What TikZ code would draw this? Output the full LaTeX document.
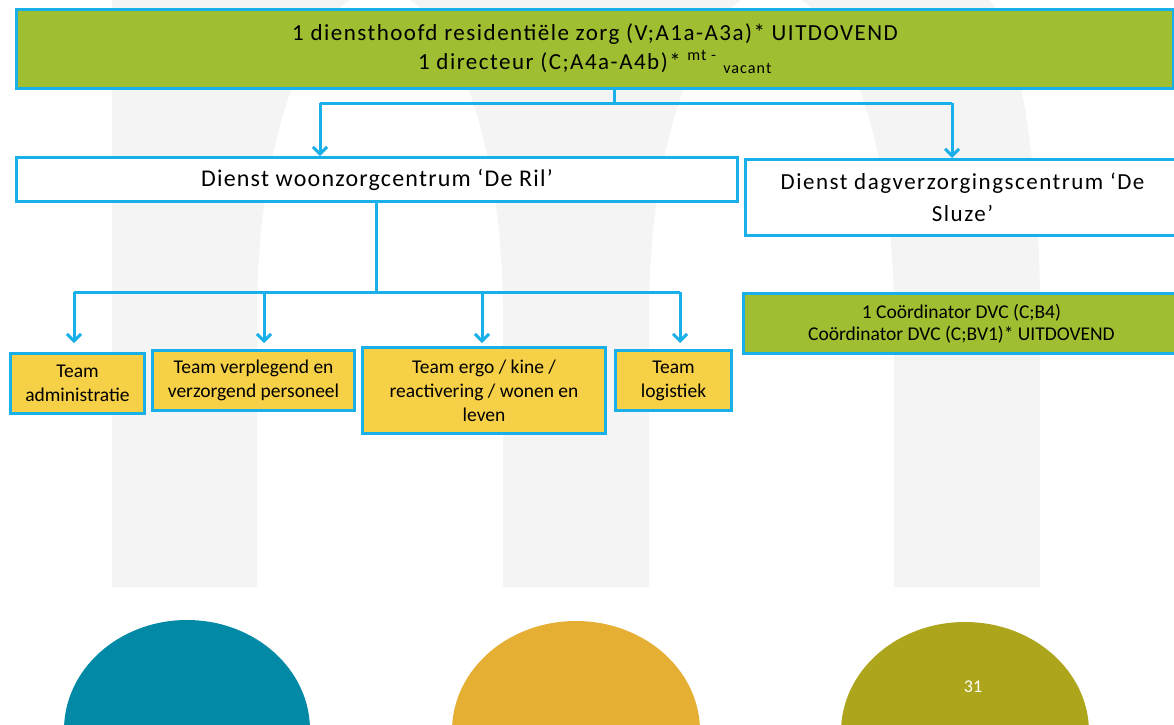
\documentclass[tikz,border=0pt]{standalone}
\usepackage{fontspec}
\setmainfont{Carlito}
\usetikzlibrary{arrows.meta}
\definecolor{cyanb}{HTML}{19AFE8}
\definecolor{boxgreen}{HTML}{A0BE32}
\definecolor{boxyellow}{HTML}{F6D047}
\definecolor{pillar}{HTML}{F4F4F4}
\definecolor{eblue}{HTML}{0289A6}
\definecolor{eorange}{HTML}{E5AF34}
\definecolor{eolive}{HTML}{ADA51C}
\begin{document}
\begin{tikzpicture}[x=1pt,y=-1pt,
  box/.style={draw=cyanb, line width=3pt, inner sep=2pt, align=center, anchor=north west},
  greenbox/.style={box, fill=boxgreen},
  whitebox/.style={box, fill=white},
  teambox/.style={box, fill=boxyellow, font=\fontsize{19.5}{24}\selectfont},
  ln/.style={draw=cyanb, line width=3pt},
  arr/.style={ln, -{Straight Barb[length=7pt,width=14pt,line width=3pt]}},
]
\useasboundingbox (0,0) rectangle (1174,724);
\clip (0,0) rectangle (1174,724);
\fill[white] (0,0) rectangle (1174,724);
% background logo shape
\fill[pillar, even odd rule]
  (112,587) -- (112,-30) -- (973,-30) -- (973,-10)
    .. controls (1010,-10) and (1040,135) .. (1040,314) -- (1040,587) -- cycle
  (257,587) -- (257,314) .. controls (257,135) and (312,-10) .. (380,-10)
    .. controls (448,-10) and (503,135) .. (503,314) -- (503,587) -- cycle
  (649,587) -- (649,314) .. controls (649,135) and (704,-10) .. (771,-10)
    .. controls (839,-10) and (894,135) .. (894,314) -- (894,587) -- cycle;
% bottom ellipses
\fill[eblue] (187,730) ellipse [x radius=123, y radius=110];
\fill[eorange] (576,731) ellipse [x radius=124, y radius=110];
\fill[eolive] (965,732) ellipse [x radius=124, y radius=110];
\node[text=white, font=\fontsize{18}{20}\selectfont] (pg) at (973,687) {31};
% boxes
\node[greenbox, minimum width=1157pt, minimum height=79pt,
      font=\fontsize{23}{30}\selectfont\addfontfeature{LetterSpace=6.5}] (top) at (15,8)
  {1 diensthoofd residentiële zorg (V;A1a-A3a)* UITDOVEND\\[-1pt]
   1 directeur (C;A4a-A4b)* \textsuperscript{mt -} \textsubscript{vacant}};
\node[whitebox, minimum width=721pt, minimum height=44pt,
      font=\fontsize{24}{28}\selectfont\addfontfeature{LetterSpace=5}] (ril) at (15,156)
  {Dienst woonzorgcentrum ‘De Ril’};
\node[whitebox, minimum width=434pt, minimum height=76pt,
      font=\fontsize{23}{32}\selectfont\addfontfeature{LetterSpace=6.5}] (sluze) at (744,158)
  {Dienst dagverzorgingscentrum ‘De\\ Sluze’};
\node[greenbox, minimum width=436pt, minimum height=60pt, font=\fontsize{19.5}{22}\selectfont] (dvc) at (742,292)
  {1 Coördinator DVC (C;B4)\\ Coördinator DVC (C;BV1)* UITDOVEND};
\node[teambox, minimum width=134pt, minimum height=60pt] (adm) at (9,352) {Team\\ administratie};
\node[teambox, minimum width=202pt, minimum height=60pt] (verpl) at (151,349) {Team verplegend en\\ verzorgend personeel};
\node[teambox, minimum width=243pt, minimum height=86pt] (ergo) at (361,346) {Team ergo / kine /\\ reactivering / wonen en\\ leven};
\node[teambox, minimum width=116pt, minimum height=60pt] (log) at (614,349) {Team\\ logistiek};
% connectors
\coordinate (j1) at (614,103);
\coordinate (b1) at (320,103);
\coordinate (b2) at (952,103);
\draw[ln] (top.south -| j1) -- (j1);
\draw[ln] (b1) -- (b2);
\draw[arr] (b1) -- (b1 |- ril.north);
\draw[arr] (b2) -- (b2 |- sluze.north);
\coordinate (j2) at (376,292);
\coordinate (c1) at (74,292);
\coordinate (c2) at (264,292);
\coordinate (c3) at (482,292);
\coordinate (c4) at (680,292);
\draw[ln] (ril.south -| j2) -- (j2);
\draw[ln] (c1) -- (c4);
\draw[arr, shorten >=9pt] (c1) -- (c1 |- adm.north);
\draw[arr, shorten >=6pt] (c2) -- (c2 |- verpl.north);
\draw[arr, shorten >=3pt] (c3) -- (c3 |- ergo.north);
\draw[arr, shorten >=6pt] (c4) -- (c4 |- log.north);
\end{tikzpicture}
\end{document}
